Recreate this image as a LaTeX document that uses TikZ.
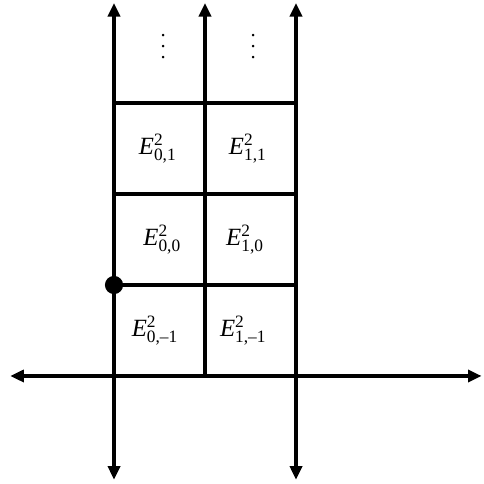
\documentclass[tikz,border=0pt]{standalone}
\usepackage{amsmath}
\usepackage{fontspec}
\setmainfont{Liberation Serif}
\usepackage{tikz}
\usetikzlibrary{arrows.meta}

\begin{document}
\begin{tikzpicture}[x=2cm, y=2cm, >={Triangle[length=8.5pt, width=7.5pt]}, line width=2.6pt,
    term/.style={font=\fontsize{15.5}{17}\selectfont, inner sep=1pt},
    dots/.style={font=\fontsize{13}{6.9}\selectfont, align=center, inner sep=0pt}]
  \useasboundingbox (-1.253,-1.176) rectangle (4.066,4.132);
  % axis ends
  \coordinate (xl) at (-1.14,0);
  \coordinate (xr) at (4.04,0);
  \coordinate (l0) at (0,-1.14);
  \coordinate (l1) at (0,4.10);
  \coordinate (m0) at (1,0);
  \coordinate (m1) at (1,4.10);
  \coordinate (r0) at (2,-1.14);
  \coordinate (r1) at (2,4.10);
  % grid rows
  \coordinate (a1) at (0,1);
  \coordinate (b1) at (2,1);
  \coordinate (a2) at (0,2);
  \coordinate (b2) at (2,2);
  \coordinate (a3) at (0,3);
  \coordinate (b3) at (2,3);
  \draw[<->] (xl) -- (xr);
  \draw[<->] (l0) -- (l1);
  \draw[->] (m0) -- (m1);
  \draw[<->] (r0) -- (r1);
  \draw (a1) -- (b1);
  \draw (a2) -- (b2);
  \draw (a3) -- (b3);
  \fill (a1) circle (0.1);
  % E^2 terms
  \node[term] (e0m) at (0.45,0.5) {$\textit{E}^{\text{2}}_{\text{0,–1}}$};
  \node[term] (e1m) at (1.42,0.5) {$\textit{E}^{\text{2}}_{\text{1,–1}}$};
  \node[term] (e00) at (0.53,1.5) {$\textit{E}^{\text{2}}_{\text{0,0}}$};
  \node[term] (e10) at (1.44,1.5) {$\textit{E}^{\text{2}}_{\text{1,0}}$};
  \node[term] (e01) at (0.48,2.5) {$\textit{E}^{\text{2}}_{\text{0,1}}$};
  \node[term] (e11) at (1.47,2.5) {$\textit{E}^{\text{2}}_{\text{1,1}}$};
  \node[dots] (d0) at (0.54,3.62) {.\\.\\.};
  \node[dots] (d1) at (1.53,3.62) {.\\.\\.};
\end{tikzpicture}
\end{document}
